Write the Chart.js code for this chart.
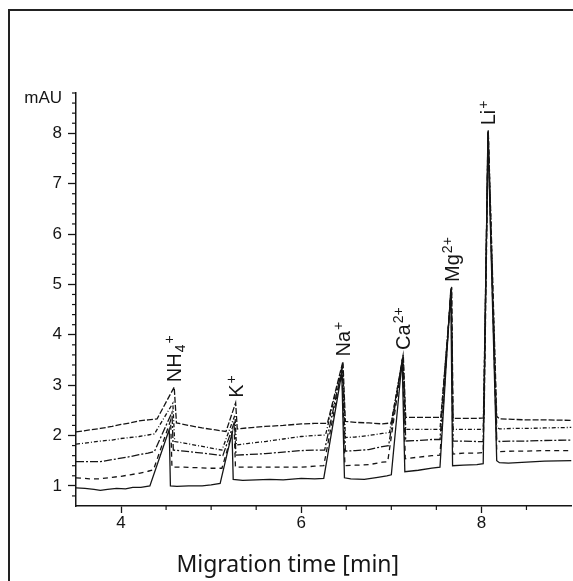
<!DOCTYPE html>
<html><head><meta charset="utf-8">
<script src="https://cdn.jsdelivr.net/npm/chart.js@4.4.1/dist/chart.umd.min.js"></script>
<style>
html,body{margin:0;padding:0;background:#fff;overflow:hidden;width:573px;height:581px}
#wrap{position:relative;width:573px;height:581px;overflow:hidden}
#lineL{position:absolute;left:8px;top:9px;width:2px;height:572px;background:#222}
#lineT{position:absolute;left:8px;top:9px;width:565px;height:2px;background:#222}
canvas{position:absolute;left:0;top:0}
</style></head><body>
<div id="wrap"><canvas id="c" width="573" height="581"></canvas><div id="lineL"></div><div id="lineT"></div></div>
<script>
// ---- data (migration time [min], absorbance [mAU]) ----
const time1 = [3.5,3.65,3.77,3.9,4.0,4.1,4.2,4.3,4.4,4.59,4.615,4.75,4.9,5.05,5.165,5.272,5.29,5.4,5.6,5.8,6.0,6.15,6.29,6.463,6.49,6.6,6.75,6.9,7.0,7.133,7.16,7.3,7.45,7.55,7.67,7.685,7.8,7.95,8.03,8.076,8.17,8.2,8.35,8.5,8.7,9.0];
const signal1 = [2.07,2.11,2.14,2.18,2.22,2.25,2.29,2.31,2.33,2.96,2.25,2.20,2.15,2.11,2.08,2.65,2.13,2.15,2.18,2.20,2.23,2.24,2.24,3.47,2.28,2.26,2.25,2.23,2.25,3.60,2.36,2.36,2.36,2.36,4.95,2.34,2.34,2.34,2.35,8.06,2.38,2.33,2.32,2.31,2.31,2.30];

const time2 = [3.5,3.65,3.77,3.9,4.0,4.1,4.2,4.3,4.37,4.575,4.595,4.7,4.85,5.0,5.12,5.265,5.28,5.4,5.6,5.8,6.0,6.15,6.27,6.46,6.49,6.6,6.75,6.9,6.98,7.13,7.16,7.3,7.45,7.54,7.668,7.685,7.8,7.95,8.02,8.076,8.17,8.2,8.35,8.5,8.7,9.0];
const signal2 = [1.83,1.86,1.89,1.91,1.94,1.96,1.98,2.01,2.03,2.64,1.88,1.85,1.80,1.75,1.71,2.41,1.81,1.84,1.88,1.93,1.98,2.00,2.01,3.42,1.96,1.97,2.00,2.04,2.06,3.58,2.12,2.12,2.12,2.12,4.94,2.12,2.12,2.12,2.12,8.05,2.17,2.13,2.14,2.14,2.15,2.16];

const time3 = [3.5,3.65,3.77,3.9,4.0,4.1,4.2,4.3,4.37,4.565,4.58,4.7,4.85,5.0,5.13,5.26,5.275,5.4,5.6,5.8,6.0,6.15,6.26,6.455,6.49,6.6,6.75,6.9,6.97,7.128,7.16,7.3,7.45,7.54,7.665,7.685,7.8,7.95,8.02,8.074,8.17,8.2,8.35,8.5,8.7,9.0];
const signal3 = [1.48,1.48,1.48,1.52,1.55,1.58,1.62,1.65,1.68,2.46,1.71,1.69,1.66,1.63,1.60,2.28,1.61,1.62,1.64,1.67,1.70,1.71,1.71,3.36,1.69,1.70,1.72,1.78,1.80,3.56,1.89,1.90,1.92,1.92,4.93,1.89,1.89,1.88,1.88,8.04,1.93,1.88,1.89,1.89,1.90,1.91];

const time4 = [3.5,3.65,3.77,3.9,4.0,4.1,4.2,4.3,4.36,4.55,4.565,4.7,4.85,5.0,5.12,5.255,5.27,5.4,5.6,5.8,6.0,6.15,6.25,6.452,6.485,6.6,6.75,6.9,6.96,7.125,7.155,7.3,7.45,7.54,7.663,7.683,7.8,7.95,8.02,8.073,8.17,8.2,8.35,8.5,8.7,9.0];
const signal4 = [1.16,1.14,1.14,1.17,1.19,1.22,1.25,1.29,1.32,2.30,1.37,1.37,1.36,1.35,1.35,2.18,1.37,1.37,1.37,1.37,1.37,1.39,1.40,3.30,1.40,1.41,1.42,1.47,1.48,3.53,1.54,1.57,1.60,1.61,4.92,1.63,1.65,1.65,1.66,8.02,1.72,1.68,1.69,1.69,1.70,1.70];

const time5 = [3.5,3.6,3.7,3.77,3.85,3.95,4.05,4.13,4.22,4.32,4.535,4.548,4.62,4.75,4.9,5.0,5.1,5.232,5.245,5.35,5.5,5.65,5.8,6.0,6.15,6.25,6.45,6.48,6.55,6.7,6.85,6.95,7.0,7.12,7.15,7.3,7.45,7.54,7.66,7.68,7.8,7.95,8.02,8.072,8.17,8.2,8.3,8.5,8.7,9.0];
const signal5 = [0.96,0.95,0.93,0.91,0.93,0.95,0.94,0.97,0.97,1.00,2.12,1.00,0.99,1.00,1.00,1.02,1.05,2.05,1.13,1.11,1.12,1.13,1.12,1.15,1.14,1.15,3.25,1.16,1.14,1.13,1.17,1.20,1.22,3.50,1.28,1.31,1.35,1.37,4.90,1.40,1.41,1.42,1.44,8.00,1.50,1.46,1.45,1.47,1.49,1.50];

// peak labels
const peakBase  = ['NH','K','Na','Ca','Mg','Li'];
const peakSub   = ['4','','','','',''];
const peakSup   = ['+','+','+','2+','2+','+'];
const peakTimes = [4.59,5.272,6.463,7.133,7.67,8.076];

// axes
const xTickValues = [4,6,8];
const xMinorTicks = [4.5,5,5.5,6.5,7,7.5,8.5];
const yTickValues = [1,2,3,4,5,6,7,8];
const yUnitLabel = 'mAU';
const yUnitValue = 8.7;
const xAxisTitle = 'Migration time [min]';

// ---- chart ----
const INK = '#151515';
const traces = [
  {t: time1, v: signal1, dash: [6,2]},
  {t: time2, v: signal2, dash: [4,2,1,2]},
  {t: time3, v: signal3, dash: [8,2,2,2]},
  {t: time4, v: signal4, dash: [5,4]},
  {t: time5, v: signal5, dash: []}
];

const datasets = traces.map(tr => ({
  data: tr.t.map((t,i) => ({x: t, y: tr.v[i]})),
  borderColor: INK,
  borderWidth: 1.3,
  borderDash: tr.dash,
  pointRadius: 0,
  fill: false,
  tension: 0
}));

function line(ctx,x1,y1,x2,y2){ctx.beginPath();ctx.moveTo(x1,y1);ctx.lineTo(x2,y2);ctx.stroke();}

const annot = {
  id: 'annot',
  afterDraw(chart){
    const ctx = chart.ctx, xs = chart.scales.x, ys = chart.scales.y, a = chart.chartArea;
    ctx.save();
    ctx.strokeStyle = INK; ctx.lineWidth = 1.2;
    for (let k = 4; k <= 44; k++) {
      if (k % 5 === 0) continue;
      const p = ys.getPixelForValue(k/5);
      line(ctx, a.left-4, p, a.left, p);
    }
    xMinorTicks.forEach(v => { const p = xs.getPixelForValue(v); line(ctx, p, a.bottom, p, a.bottom+4); });

    // peak labels
    ctx.fillStyle = INK;
    ctx.textAlign = 'left';
    ctx.textBaseline = 'alphabetic';
    peakTimes.forEach((t, i) => {
      let h = -Infinity;
      traces.forEach(tr => tr.t.forEach((tt, j) => { if (Math.abs(tt - t) < 0.03) h = Math.max(h, tr.v[j]); }));
      const px = xs.getPixelForValue(t), py = ys.getPixelForValue(h) - 5;
      ctx.save();
      ctx.translate(px, py);
      ctx.rotate(-Math.PI/2);
      ctx.font = '20px "Liberation Sans", Arial, sans-serif';
      ctx.fillText(peakBase[i], 0, 7);
      let w = ctx.measureText(peakBase[i]).width;
      ctx.font = '14px "Liberation Sans", Arial, sans-serif';
      if (peakSub[i]) { ctx.fillText(peakSub[i], w+1, 11); w += ctx.measureText(peakSub[i]).width + 1; }
      if (peakSup[i]) { ctx.fillText(peakSup[i], w+1, 0); }
      ctx.restore();
    });

    // axis title
    ctx.font = '23px "Noto Sans", sans-serif';
    ctx.textAlign = 'center';
    ctx.fillText(xAxisTitle, (a.left + a.right)/2 - 36, a.bottom + 66);
    ctx.restore();
  }
};

new Chart(document.getElementById('c'), {
  type: 'line',
  data: { datasets },
  plugins: [annot],
  options: {
    responsive: false,
    animation: false,
    devicePixelRatio: 1,
    layout: { padding: { top: 93, right: 1.5, bottom: 0, left: 0 } },
    plugins: { legend: { display: false }, tooltip: { enabled: false } },
    scales: {
      x: {
        type: 'linear', min: 3.5, max: 9,
        afterFit: s => { s.height = 75; },
        afterBuildTicks: s => { s.ticks = xTickValues.map(v => ({value: v})); },
        grid: { drawOnChartArea: false, drawTicks: true, tickLength: 7, tickColor: INK, tickWidth: 1.3 },
        border: { display: true, color: INK, width: 1.5 },
        ticks: { color: INK, font: { family: '"Liberation Sans", Arial, sans-serif', size: 17 }, padding: 0, maxRotation: 0,
                 callback: v => String(v) }
      },
      y: {
        type: 'linear', min: 0.6, max: 8.8,
        afterFit: s => { s.width = 76; },
        afterBuildTicks: s => { s.ticks = yTickValues.map(v => ({value: v})).concat([{value: yUnitValue}]); },
        grid: { drawOnChartArea: false, drawTicks: true, tickLength: 8, tickWidth: 1.3,
                tickColor: c => (c.tick && c.tick.value === yUnitValue) ? 'rgba(0,0,0,0)' : INK },
        border: { display: true, color: INK, width: 1.5 },
        ticks: { color: INK, font: { family: '"Liberation Sans", Arial, sans-serif', size: 17 }, padding: 6,
                 callback: v => v === yUnitValue ? yUnitLabel : String(v) }
      }
    }
  }
});
</script>
</body></html>
